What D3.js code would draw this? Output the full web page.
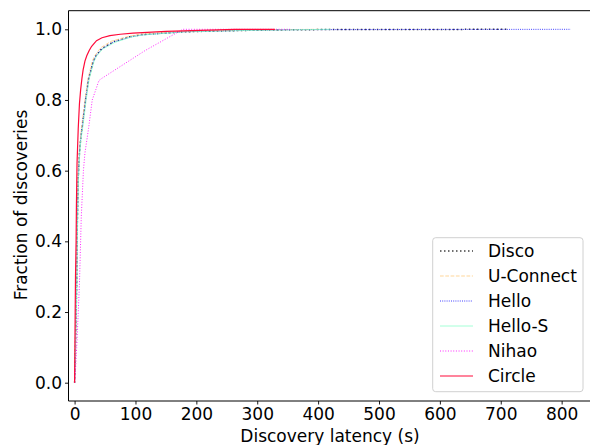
<!DOCTYPE html>
<html><head><meta charset="utf-8">
<script src="https://cdn.jsdelivr.net/npm/d3@7"></script>
<style>body{margin:0;background:#fff}svg{display:block}text{font-family:"DejaVu Sans",sans-serif;fill:#000}</style>
</head><body>
<svg id="c" width="590" height="445"></svg>
<script>
// ---- data ----
const seriesNames = ["Disco", "U-Connect", "Hello", "Hello-S", "Nihao", "Circle"];
const discoLatency = [0, 1, 2, 3.5, 4.5, 6, 8, 10, 13, 18, 23, 31, 35, 45, 64, 91, 110, 180, 285, 370, 710];
const discoFraction = [0, 0.06, 0.15, 0.28, 0.45, 0.58, 0.65, 0.69, 0.73, 0.8, 0.86, 0.91, 0.925, 0.946, 0.965, 0.979, 0.985, 0.993, 0.997, 0.999, 1.0];
const uconnectLatency = [0, 1, 2, 3.2, 4.2, 5.5, 7.5, 9.5, 12, 17, 22, 29, 33, 43, 60, 88, 108, 175, 280, 400];
const uconnectFraction = [0, 0.06, 0.15, 0.28, 0.45, 0.58, 0.65, 0.69, 0.73, 0.8, 0.86, 0.91, 0.925, 0.948, 0.966, 0.98, 0.986, 0.994, 0.998, 1.0];
const helloLatency = [0, 1, 2, 3.6, 4.6, 6, 8, 10, 13, 18, 23, 31, 35, 45, 64, 91, 110, 180, 285, 370, 815];
const helloFraction = [0, 0.06, 0.15, 0.28, 0.45, 0.58, 0.65, 0.69, 0.73, 0.8, 0.86, 0.91, 0.925, 0.945, 0.964, 0.978, 0.984, 0.993, 0.997, 0.999, 1.0];
const helloSLatency = [0, 1, 2, 3.8, 4.8, 6.5, 8.5, 10.5, 14, 19, 24, 32, 36, 46, 66, 93, 112, 182, 288, 420];
const helloSFraction = [0, 0.06, 0.15, 0.28, 0.45, 0.58, 0.65, 0.69, 0.73, 0.8, 0.86, 0.91, 0.924, 0.944, 0.963, 0.978, 0.984, 0.993, 0.997, 1.0];
const nihaoLatency = [0, 2, 4, 6, 8, 11, 14.5, 17, 23, 29, 35, 40, 44.6, 116, 178, 354];
const nihaoFraction = [0, 0.05, 0.12, 0.2, 0.28, 0.47, 0.6, 0.65, 0.72, 0.8, 0.83, 0.855, 0.861, 0.94, 1.0, 1.0];
const circleLatency = [0, 0.5, 1, 1.5, 2.5, 3, 4, 6, 8, 10, 12, 14, 17, 20, 24, 28, 36, 45, 58, 75, 96, 150, 263, 329];
const circleFraction = [0, 0.1, 0.2, 0.3, 0.4, 0.5, 0.62, 0.72, 0.79, 0.83, 0.86, 0.885, 0.91, 0.925, 0.94, 0.952, 0.968, 0.976, 0.982, 0.986, 0.989, 0.994, 1.0, 1.0];
const xTicks = [0, 100, 200, 300, 400, 500, 600, 700, 800];
const yTicks = [0.0, 0.2, 0.4, 0.6, 0.8, 1.0];

const series = [
  {name: seriesNames[0], x: discoLatency, y: discoFraction, color: "#000", opacity: 0.75, width: 1.5, dash: "1.5,2.5"},
  {name: seriesNames[1], x: uconnectLatency, y: uconnectFraction, color: "#ffcc80", opacity: 0.8, width: 1, dash: "3.7,1.6"},
  {name: seriesNames[2], x: helloLatency, y: helloFraction, color: "#0000ff", opacity: 0.75, width: 1, dash: "1,1.2"},
  {name: seriesNames[3], x: helloSLatency, y: helloSFraction, color: "#7fffc4", opacity: 0.7, width: 1, dash: null},
  {name: seriesNames[4], x: nihaoLatency, y: nihaoFraction, color: "#ff00ff", opacity: 0.85, width: 1, dash: "1,1.65"},
  {name: seriesNames[5], x: circleLatency, y: circleFraction, color: "#ff0a3a", opacity: 1, width: 1.2, dash: null}
];

const svg = d3.select("#c");
const pLeft = 68.5, pRight = 600, pTop = 10.7, pBottom = 401;
const x = d3.scaleLinear().domain([-10, 863]).range([pLeft, pRight]);
const y = d3.scaleLinear().domain([0, 1]).range([382.7, 29.3]);

const fs = 17;
// lines
const line = d3.line().x(d => x(d[0])).y(d => y(d[1]));
series.forEach(s => {
  const pts = s.x.map((v, i) => [v, s.y[i]]);
  svg.append("path").attr("d", line(pts)).attr("fill", "none")
    .attr("stroke", s.color).attr("stroke-opacity", s.opacity)
    .attr("stroke-width", s.width).attr("stroke-dasharray", s.dash);
});

// frame
svg.append("line").attr("x1", pLeft).attr("x2", pRight).attr("y1", pTop).attr("y2", pTop).attr("stroke", "#000").attr("stroke-width", 1);
svg.append("line").attr("x1", pLeft).attr("x2", pRight).attr("y1", pBottom).attr("y2", pBottom).attr("stroke", "#000").attr("stroke-width", 1);
svg.append("line").attr("x1", pLeft).attr("x2", pLeft).attr("y1", pTop).attr("y2", pBottom).attr("stroke", "#000").attr("stroke-width", 1);

// axes
const xAxis = svg.append("g").attr("transform", `translate(0,${pBottom})`)
  .call(d3.axisBottom(x).tickValues(xTicks).tickSize(3.5).tickPadding(3).tickFormat(d3.format("d")));
const yAxis = svg.append("g").attr("transform", `translate(${pLeft},0)`)
  .call(d3.axisLeft(y).tickValues(yTicks).tickSize(3.5).tickPadding(3).tickFormat(d3.format(".1f")));
[xAxis, yAxis].forEach(a => {
  a.select(".domain").remove();
  a.selectAll("text").attr("font-size", fs).attr("font-family", "DejaVu Sans").attr("fill", "#000");
  a.selectAll("line").attr("stroke", "#000").attr("stroke-width", 0.9);
});

svg.append("text").attr("x", 330).attr("y", 442).attr("text-anchor", "middle").attr("font-size", fs).text("Discovery latency (s)");
svg.append("text").attr("transform", "translate(27,205) rotate(-90)").attr("text-anchor", "middle").attr("font-size", fs).text("Fraction of discoveries");

// legend
const lg = svg.append("g");
lg.append("rect").attr("x", 432.7).attr("y", 237.7).attr("width", 150.3).attr("height", 154)
  .attr("rx", 3).attr("fill", "#fff").attr("fill-opacity", 0.8).attr("stroke", "#d0d0d0").attr("stroke-width", 1);
series.forEach((s, i) => {
  const yy = 251 + i * 25;
  lg.append("line").attr("x1", 440).attr("x2", 473).attr("y1", yy).attr("y2", yy)
    .attr("stroke", s.color).attr("stroke-opacity", s.opacity)
    .attr("stroke-width", s.width).attr("stroke-dasharray", s.dash);
  lg.append("text").attr("x", 488).attr("y", yy + 6).attr("font-size", fs).text(s.name);
});
</script>
</body></html>
